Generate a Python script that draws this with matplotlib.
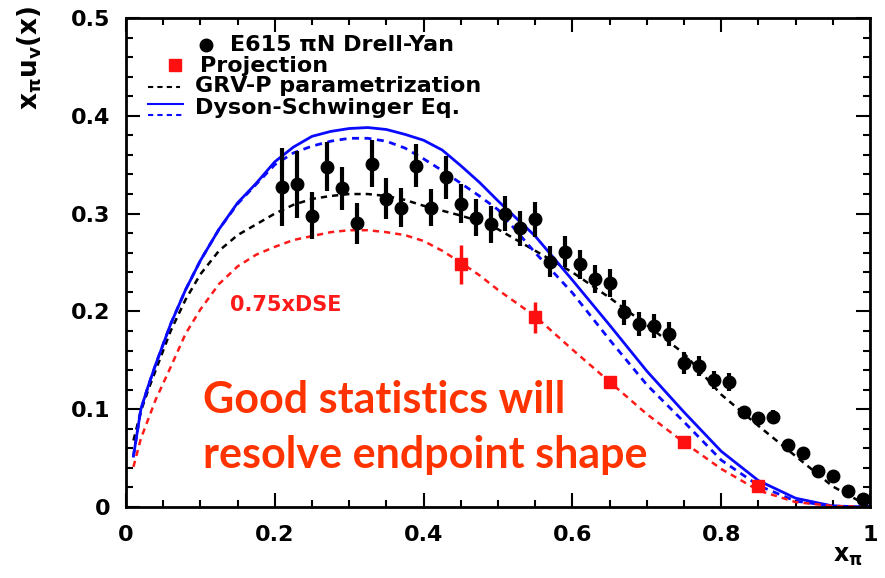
import numpy as np
import matplotlib
matplotlib.use("Agg")
import matplotlib.pyplot as plt
from matplotlib.ticker import MultipleLocator, FuncFormatter

plt.rcParams['font.family'] = ['DejaVu Sans']
plt.rcParams['mathtext.fontset'] = 'custom'
plt.rcParams['mathtext.rm'] = 'DejaVu Sans:bold'
plt.rcParams['mathtext.it'] = 'DejaVu Sans:bold'
plt.rcParams['mathtext.bf'] = 'DejaVu Sans:bold'

# E615 pi N Drell-Yan data
e615_x = [0.21, 0.23, 0.25, 0.27, 0.29, 0.31, 0.33, 0.35, 0.37, 0.39,
          0.41, 0.43, 0.45, 0.47, 0.49, 0.51, 0.53, 0.55, 0.57, 0.59,
          0.61, 0.63, 0.65, 0.67, 0.69, 0.71, 0.73, 0.75, 0.77, 0.79,
          0.81, 0.83, 0.85, 0.87, 0.89, 0.91, 0.93, 0.95, 0.97, 0.99]
e615_y = [0.327, 0.330, 0.298, 0.348, 0.326, 0.290, 0.351, 0.315, 0.306, 0.349,
          0.306, 0.337, 0.310, 0.296, 0.289, 0.300, 0.285, 0.294, 0.251, 0.261,
          0.248, 0.233, 0.229, 0.199, 0.187, 0.185, 0.177, 0.147, 0.144, 0.130,
          0.128, 0.097, 0.091, 0.092, 0.063, 0.055, 0.037, 0.032, 0.016, 0.008]
e615_err = [0.040, 0.034, 0.024, 0.025, 0.022, 0.021, 0.024, 0.021, 0.020, 0.022,
            0.019, 0.022, 0.020, 0.019, 0.019, 0.018, 0.018, 0.018, 0.016, 0.016,
            0.015, 0.014, 0.014, 0.013, 0.012, 0.012, 0.012, 0.011, 0.010, 0.009,
            0.009, 0.006, 0.006, 0.007, 0.004, 0.004, 0.003, 0.003, 0.003, 0.003]

# projected points
proj_x = [0.45, 0.55, 0.65, 0.75, 0.85]
proj_y = [0.248, 0.194, 0.128, 0.066, 0.021]
proj_err = [0.020, 0.016, 0.006, 0.003, 0.003]

# curves
curve_x = [0.01, 0.02, 0.03, 0.04, 0.06, 0.08, 0.10, 0.125, 0.15, 0.175,
           0.20, 0.225, 0.25, 0.275, 0.30, 0.325, 0.35, 0.375, 0.40, 0.425,
           0.45, 0.475, 0.50, 0.55, 0.60, 0.65, 0.70, 0.75, 0.80, 0.85,
           0.90, 0.95, 1.00]
dse_solid = [0.052, 0.100, 0.124, 0.146, 0.187, 0.222, 0.252, 0.284, 0.311, 0.331,
             0.353, 0.368, 0.379, 0.384, 0.387, 0.388, 0.386, 0.381, 0.375, 0.365,
             0.349, 0.332, 0.313, 0.277, 0.232, 0.186, 0.139, 0.097, 0.057, 0.027,
             0.009, 0.001, 0.0]
dse_dashed = [0.052, 0.100, 0.124, 0.146, 0.187, 0.222, 0.252, 0.284, 0.310, 0.330,
              0.350, 0.362, 0.369, 0.374, 0.377, 0.377, 0.374, 0.367, 0.356, 0.344,
              0.331, 0.318, 0.304, 0.260, 0.219, 0.171, 0.125, 0.087, 0.048, 0.022,
              0.006, 0.001, 0.0]
grv = [0.068, 0.098, 0.120, 0.140, 0.180, 0.212, 0.238, 0.262, 0.278, 0.289,
       0.300, 0.309, 0.315, 0.318, 0.320, 0.320, 0.318, 0.314, 0.308, 0.303,
       0.298, 0.292, 0.284, 0.262, 0.240, 0.214, 0.186, 0.157, 0.115, 0.083,
       0.052, 0.021, 0.0]
dse_075 = [0.041, 0.070, 0.090, 0.110, 0.143, 0.177, 0.202, 0.228, 0.246, 0.258,
           0.266, 0.273, 0.277, 0.281, 0.283, 0.283, 0.281, 0.278, 0.272, 0.262,
           0.250, 0.237, 0.222, 0.195, 0.161, 0.128, 0.095, 0.066, 0.039, 0.017,
           0.005, 0.001, 0.0]

fig = plt.figure(figsize=(8.85, 5.78), dpi=100)
ax = fig.add_axes([126/885, 71/578, 744/885, 489/578])

ax.plot(curve_x, grv, color='black', lw=1.8, dashes=(2.5, 2))
ax.plot(curve_x, dse_solid, color='#0a0aff', lw=2.0)
ax.plot(curve_x, dse_dashed, color='#0a0aff', lw=2.0, dashes=(2.5, 2))
ax.plot(curve_x, dse_075, color='#ff1a1a', lw=1.8, dashes=(2.5, 2))

ax.errorbar(e615_x, e615_y, yerr=e615_err, fmt='o', color='black', ms=9,
            elinewidth=3, capsize=0, zorder=5)
ax.errorbar(proj_x, proj_y, yerr=proj_err, fmt='s', color='#ff1010', ms=8,
            elinewidth=2.5, capsize=0, zorder=5)

ax.set_xlim(0, 1)
ax.set_ylim(0, 0.5)
ax.xaxis.set_major_locator(MultipleLocator(0.2))
ax.xaxis.set_minor_locator(MultipleLocator(0.05))
ax.yaxis.set_major_locator(MultipleLocator(0.1))
ax.yaxis.set_minor_locator(MultipleLocator(0.02))
fmt = FuncFormatter(lambda v, p: '%g' % round(v, 3))
ax.xaxis.set_major_formatter(fmt)
ax.yaxis.set_major_formatter(fmt)
ax.tick_params(which='both', direction='in', top=True, right=True, width=1.5)
ax.tick_params(which='major', length=10)
ax.tick_params(which='minor', length=5)
ax.tick_params(axis='y', which='major', pad=11)
ax.tick_params(axis='x', which='major', pad=13)
for lab in ax.get_xticklabels() + ax.get_yticklabels():
    lab.set_fontsize(16)
    lab.set_fontweight('bold')
for s in ax.spines.values():
    s.set_linewidth(2)

# legend drawn by hand, ROOT style
ax.plot([0.1075], [0.945], 'o', color='black', ms=9, transform=ax.transAxes, clip_on=False)
ax.text(0.14, 0.945, u'E615 \u03c0N Drell-Yan', transform=ax.transAxes,
        fontsize=16, fontweight='bold', va='center')
ax.plot([0.066], [0.904], 's', color='#ff1010', ms=8, transform=ax.transAxes, clip_on=False)
ax.text(0.10, 0.902, 'Projection', transform=ax.transAxes,
        fontsize=16, fontweight='bold', va='center')
ax.plot([0.030, 0.073], [0.859, 0.859], color='black', lw=1.5, dashes=(2.5, 2),
        transform=ax.transAxes)
ax.text(0.093, 0.860, 'GRV-P parametrization', transform=ax.transAxes,
        fontsize=16, fontweight='bold', va='center')
ax.plot([0.030, 0.077], [0.824, 0.824], color='#0a0aff', lw=1.5, transform=ax.transAxes)
ax.plot([0.030, 0.077], [0.802, 0.802], color='#0a0aff', lw=1.5, dashes=(2.5, 2),
        transform=ax.transAxes)
ax.text(0.093, 0.816, 'Dyson-Schwinger Eq.', transform=ax.transAxes,
        fontsize=16, fontweight='bold', va='center')

ax.text(0.14, 0.207, '0.75xDSE', color='#ff1a1a', fontsize=15, fontweight='bold', va='center')
ax.text(0.1035, 0.096, 'Good statistics will', color='#ff3300', fontsize=31,
        fontweight='bold', family=['Lato', 'DejaVu Sans'])
ax.text(0.1035, 0.040, 'resolve endpoint shape', color='#ff3300', fontsize=31,
        fontweight='bold', family=['Lato', 'DejaVu Sans'])

fig.text(30/885, 1 - 5/578, r'$x_{\pi}u_{v}(x)$', rotation=90, ha='center', va='top',
         fontsize=19)
fig.text(848/885, 1 - 556/578, r'$x_{\pi}$', ha='center', va='center', fontsize=17)

fig.savefig('out.png', dpi=100)
